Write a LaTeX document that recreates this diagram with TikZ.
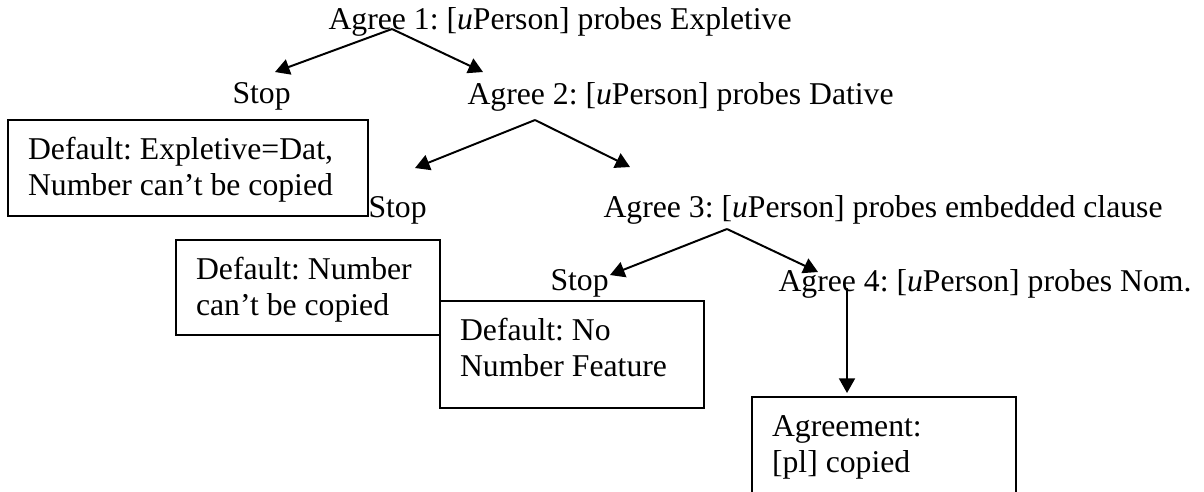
\documentclass[tikz,border=0pt]{standalone}
\usepackage{fontspec}
\setmainfont{Liberation Serif}
\usetikzlibrary{arrows.meta, calc}

\begin{document}
\begin{tikzpicture}[x=0.3785pt, y=-0.3785pt, font=\fontsize{12pt}{13.6pt}\selectfont\frenchspacing,
  lbl/.style={anchor=base west, inner sep=0pt},
  dbox/.style={draw, line width=0.75pt, anchor=north west, align=flush left, inner xsep=7.6pt, inner ysep=0pt, text width=84.8pt, text height=15.1pt},
  fork/.style={-{Triangle[length=5.5pt,width=6pt]}, line width=0.75pt}]
  \useasboundingbox (0,0) rectangle (1204,491);
  % probing steps
  \node[lbl] (agree1) at (328,29) {Agree 1: [\textit{u}Person] probes Expletive};
  \node[lbl] (stop1) at (232,103) {Stop};
  \node[lbl] (agree2) at (467,104) {Agree 2: [\textit{u}Person] probes Dative};
  \node[lbl] (stop2) at (368,217) {Stop};
  \node[lbl] (agree3) at (603,217) {Agree 3: [\textit{u}Person] probes embedded clause};
  \node[lbl] (stop3) at (550,290) {Stop};
  \node[lbl] (agree4) at (778,291) {Agree 4: [\textit{u}Person] probes Nom.};
  % outcomes
  \node[dbox, text width=121.1pt, text depth=21.2pt] (dflt1) at (7,119) {Default: Expletive=Dat,\\Number can’t be copied};
  \node[dbox, text depth=20.8pt] (dflt2) at (175,239) {Default: Number\\can’t be copied};
  \node[dbox, text depth=25.4pt] (dflt3) at (439,300) {Default: No\\Number Feature};
  \node[dbox, text depth=40pt] (agrbox) at (751,396) {Agreement:\\{[pl]} copied};
  % branches
  \coordinate (fork1) at ([shift={(64,0)}]agree1.base west);
  \coordinate (fork2) at ([shift={(68,16)}]agree2.base west);
  \coordinate (fork3) at ([shift={(124,12)}]agree3.base west);
  \coordinate (fork4) at ([shift={(69,-3)}]agree4.base west);
  \draw[fork] (fork1) -- ([shift={(43,-31)}]stop1.base west);
  \draw[fork] (fork1) -- ([shift={(16,-32)}]agree2.base west);
  \draw[fork] (fork2) -- ([shift={(47,-49)}]stop2.base west);
  \draw[fork] (fork2) -- ([shift={(27,-50)}]agree3.base west);
  \draw[fork] (fork3) -- ([shift={(60,-15)}]stop3.base west);
  \draw[fork] (fork3) -- ([shift={(40,-19)}]agree4.base west);
  \draw[fork] (fork4) -- ([shift={(96,-3)}]agrbox.north west);
\end{tikzpicture}
\end{document}
